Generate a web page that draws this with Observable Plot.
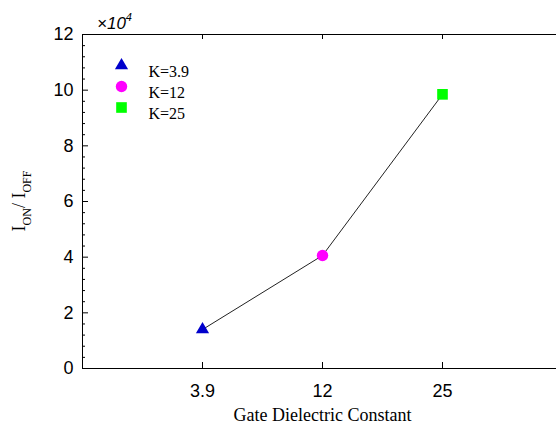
<!DOCTYPE html>
<html>
<head>
<meta charset="utf-8">
<script src="https://cdn.jsdelivr.net/npm/d3@7"></script>
<script src="https://cdn.jsdelivr.net/npm/@observablehq/plot@0.6"></script>
<style>
  html, body { margin: 0; padding: 0; background: #fff; }
  #chart { width: 556px; height: 431px; overflow: hidden; position: relative; }
  #chart svg { max-width: none !important; overflow: hidden; }
  #ytitle { position: absolute; left: 19px; top: 201px; height: 18px; line-height: 18px; white-space: nowrap;
            transform: translate(-50%, -50%) rotate(-90deg); font-family: 'Times New Roman', 'Liberation Serif', serif; font-size: 18px; color: #000; }
  #ytitle .sub { font-size: 12px; vertical-align: -6px; }
  #expo { position: absolute; left: 97px; top: 9px; line-height: 17px; white-space: nowrap;
          font-family: Arial, 'Liberation Sans', sans-serif; font-style: italic; font-size: 17px; color: #000; }
  #expo .sup { font-size: 11px; vertical-align: 8px; }
</style>
</head>
<body>
<div id="chart">
  <div id="ytitle"></div>
  <div id="expo"></div>
</div>
<script>
// ---- data ----
const categories = ["3.9", "12", "25"];          // gate dielectric constant K
const ratios = [1.4, 4.06, 9.85];                // I_ON / I_OFF  (x10^4)
const legendLabels = ["K=3.9", "K=12", "K=25"];
const yTicks = [0, 2, 4, 6, 8, 10, 12];
const yMinorTicks = [0.4, 0.8, 1.2, 1.6, 2.4, 2.8, 3.2, 3.6, 4.4, 4.8, 5.2, 5.6,
                     6.4, 6.8, 7.2, 7.6, 8.4, 8.8, 9.2, 9.6, 10.4, 10.8, 11.2, 11.6];
const xTitle = "Gate Dielectric Constant";

// ---- styles ----
const markerSymbols = ["triangle", "circle", "square"];
const markerColors = ["#0000cc", "#ff00ff", "#00ff00"];
const markerR = [4.9, 5.7, 6.0];

const data = categories.map((k, i) => ({k, v: ratios[i], i}));

const serifFont = "'Times New Roman', 'Liberation Serif', Times, serif";

const W = 556, H = 431, mL = 82, mR = -6, mT = 34, mB = 63;
const plotW = W - mL - mR, plotH = H - mT - mB;

const svg = Plot.plot({
  width: W,
  height: H,
  marginLeft: mL,
  marginRight: mR,
  marginTop: mT,
  marginBottom: mB,
  style: "font-family: Arial, 'Liberation Sans', sans-serif; font-size: 18px; max-width: none; background: #fff; color: #000;",
  x: {type: "point", domain: categories, padding: 1},
  y: {domain: [0, 12]},
  marks: [
    // axis labels
    Plot.axisY({ticks: yTicks, tickSize: 0, tickPadding: 9, label: null, fontSize: 18}),
    Plot.axisX({anchor: "bottom", tickSize: 0, tickPadding: 16, label: null, fontSize: 18}),
    // inward ticks
    Plot.tickY(yTicks, {y: d => d, insetRight: plotW - 6, stroke: "#000"}),
    Plot.tickY(yMinorTicks, {y: d => d, insetRight: plotW - 3, stroke: "#000"}),
    Plot.tickX(categories, {x: d => d, insetTop: plotH - 6, stroke: "#000"}),
    Plot.tickX(categories, {x: d => d, insetBottom: plotH - 5, stroke: "#000"}),
    // box (its right side lies beyond the picture)
    Plot.frame({anchor: "left", stroke: "#000"}),
    Plot.frame({anchor: "top", stroke: "#000"}),
    Plot.frame({anchor: "bottom", stroke: "#000"}),
    // data
    Plot.line(data, {x: "k", y: "v", stroke: "#222", strokeWidth: 1}),
    ...data.map(d => Plot.dot([d], {x: "k", y: "v", symbol: () => markerSymbols[d.i], fill: markerColors[d.i], r: markerR[d.i], stroke: "none"})),
    // legend (inside plot, upper left)
    ...legendLabels.map((lab, i) => Plot.dot([lab], {frameAnchor: "top-left", dx: 39, dy: 31 + i * 21, symbol: markerSymbols[i], fill: markerColors[i], r: markerR[i], stroke: "none"})),
    ...legendLabels.map((lab, i) => Plot.text([lab], {frameAnchor: "top-left", dx: 66, dy: 31 + i * 21, text: d => d, textAnchor: "start", fontFamily: serifFont, fontSize: 16, fill: "#000"})),
    // x axis title
    Plot.text([xTitle], {frameAnchor: "bottom", dy: 52, text: d => d, fontFamily: serifFont, fontSize: 18, fill: "#000"})
  ]
});

document.getElementById("chart").insertBefore(svg, document.getElementById("ytitle"));

// y axis title: I_ON / I_OFF
document.getElementById("ytitle").innerHTML = 'I<span class="sub">ON</span>/ I<span class="sub">OFF</span>';
// exponent label ×10^4
document.getElementById("expo").innerHTML = '×10<span class="sup">4</span>';
</script>
</body>
</html>
